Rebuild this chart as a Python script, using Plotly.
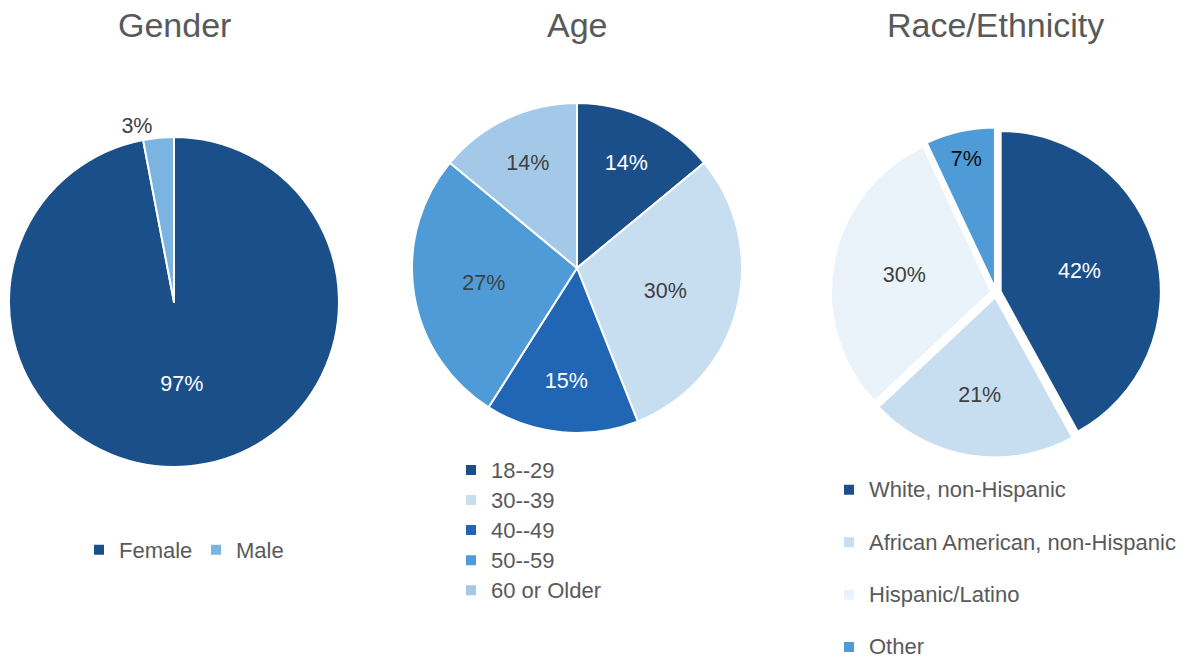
import plotly.graph_objects as go

# ---- data ----
gender_labels = ["Female", "Male"]
gender_values = [97, 3]
gender_colors = ["#1B4F8A", "#7CB4E1"]
gender_text_colors = ["#FFFFFF", "#404040"]

age_labels = ["18--29", "30--39", "40--49", "50--59", "60 or Older"]
age_values = [14, 30, 15, 27, 14]
age_colors = ["#1B4F8A", "#C7DDF0", "#2166B4", "#4E9BD7", "#A4C9E8"]
age_text_colors = ["#FFFFFF", "#404040", "#FFFFFF", "#404040", "#404040"]

race_labels = ["White, non-Hispanic", "African American, non-Hispanic",
               "Hispanic/Latino", "Other"]
race_values = [42, 21, 30, 7]
race_colors = ["#1B4F8A", "#C7DDF0", "#EBF3FA", "#4E9BD7"]
race_text_colors = ["#FFFFFF", "#404040", "#404040", "#0D0D0D"]

titles = ["Gender", "Age", "Race/Ethnicity"]

W, H = 1187, 660
FONT = "Liberation Sans, Arial, sans-serif"
GREY = "#595959"
LEGEND_TEXT_PX = 22


def px_x(v):
    return v / W


def px_y(v):
    return 1 - v / H


def domain(cx, cy, half):
    return dict(x=[px_x(cx - half), px_x(cx + half)],
                y=[px_y(cy + half), px_y(cy - half)])


def sized(label, extra_line=False):
    # legend text drawn at a fixed size; row spacing follows legend font size
    s = f"<span style='font-size:{LEGEND_TEXT_PX}px'>{label}</span>"
    return s + "<br> " if extra_line else s


fig = go.Figure()

common = dict(
    sort=False,
    direction="clockwise",
    rotation=0,
    texttemplate="%{percent:.0%}",
    insidetextorientation="horizontal",
    hovertemplate="%{percent:.0%}<extra></extra>",
)

fig.add_trace(go.Pie(
    labels=gender_labels, values=gender_values,
    marker=dict(colors=gender_colors, line=dict(color="white", width=2)),
    textposition=["inside", "outside"],
    textfont=dict(family=FONT, size=21.5, color=gender_text_colors),
    domain=domain(174, 302, 165),
    legend="legend",
    **common,
))

fig.add_trace(go.Pie(
    labels=[sized(l) for l in age_labels], values=age_values,
    marker=dict(colors=age_colors, line=dict(color="white", width=2)),
    textposition="inside",
    textfont=dict(family=FONT, size=21.5, color=age_text_colors),
    domain=domain(577, 268, 165),
    legend="legend2",
    **common,
))

# race legend entries get an extra blank line for wider spacing
race_legend_labels = [sized(l, extra_line=i < len(race_labels) - 1)
                      for i, l in enumerate(race_labels)]

fig.add_trace(go.Pie(
    labels=race_legend_labels, values=race_values,
    marker=dict(colors=race_colors, line=dict(color="white", width=2)),
    pull=[0.03] * len(race_values),
    textposition="inside",
    textfont=dict(family=FONT, size=21.5, color=race_text_colors),
    domain=domain(996, 292.5, 165),
    legend="legend3",
    **common,
))

title_x = [174, 577, 996]
annotations = [
    dict(text=t, x=px_x(x), y=px_y(25), xref="paper", yref="paper",
         xanchor="center", yanchor="middle", showarrow=False,
         font=dict(family=FONT, size=34, color=GREY))
    for t, x in zip(titles, title_x)
]

fig.update_layout(
    width=W, height=H,
    margin=dict(l=0, r=0, t=0, b=0, autoexpand=False),
    paper_bgcolor="white",
    plot_bgcolor="white",
    annotations=annotations,
    legend=dict(orientation="h", x=px_x(79), y=px_y(550),
                xanchor="left", yanchor="middle",
                font=dict(family=FONT, size=22, color=GREY),
                bgcolor="rgba(0,0,0,0)",
                entrywidth=72, itemclick=False, itemdoubleclick=False),
    legend2=dict(orientation="v", x=px_x(451), y=px_y(450),
                 xanchor="left", yanchor="top",
                 font=dict(family=FONT, size=20.8, color=GREY),
                 bgcolor="rgba(0,0,0,0)",
                 itemclick=False, itemdoubleclick=False),
    legend3=dict(orientation="v", x=px_x(829), y=px_y(471),
                 xanchor="left", yanchor="top", valign="top",
                 font=dict(family=FONT, size=19, color=GREY),
                 bgcolor="rgba(0,0,0,0)",
                 itemclick=False, itemdoubleclick=False),
)

fig.write_html("out.html")
